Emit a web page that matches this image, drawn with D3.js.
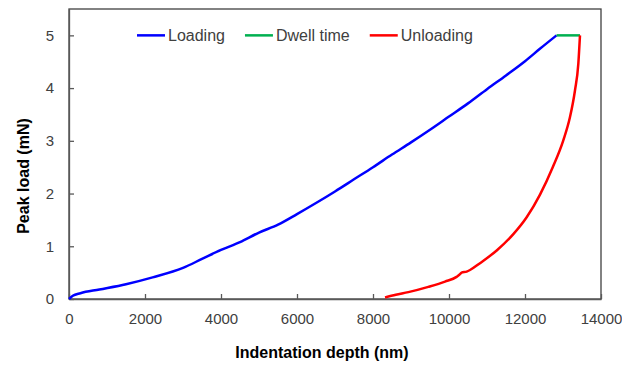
<!DOCTYPE html>
<meta charset="utf-8">
<style>
  body { margin: 0; background: #fff; }
  svg { font-family: Arial, "Liberation Sans", sans-serif; }
  .axis text { font-size: 15px; fill: #404040; }
  .axis path, .axis line { stroke: #595959; stroke-width: 1.3px; }
  .title { font-size: 16px; font-weight: bold; fill: #000; }
  .legend text { font-size: 16px; fill: #404040; }
</style>
<svg width="622" height="365"></svg>
<script src="https://d3js.org/d3.v7.min.js"></script>
<script>

  // indentation depth (nm) vs load (mN)
  var loading = [
    [0, 0], [100, 0.06], [300, 0.11], [800, 0.18], [1500, 0.28], [2200, 0.41],
    [3000, 0.59], [3500, 0.76], [4000, 0.93], [4500, 1.08], [5000, 1.26], [5500, 1.41],
    [6000, 1.61], [6500, 1.82], [7000, 2.04], [7500, 2.27], [8000, 2.50], [8500, 2.74],
    [9000, 2.97], [9500, 3.21], [10000, 3.46], [10500, 3.71], [11000, 3.98], [11500, 4.24],
    [12000, 4.51], [12400, 4.75], [12830, 5.0]
  ];
  var dwell = [[12830, 5.0], [13447, 5.0]];
  var unloading = [
    [8316, 0.03], [8600, 0.08], [8930, 0.13], [9456, 0.23], [9895, 0.33], [10200, 0.42],
    [10290, 0.47], [10330, 0.50], [10465, 0.52], [10553, 0.55], [10816, 0.68], [11255, 0.92],
    [11693, 1.23], [12044, 1.55], [12395, 1.98], [12730, 2.5], [13008, 3.01], [13184, 3.45],
    [13316, 3.96], [13403, 4.46], [13447, 5.0]
  ];

  var seriesNames = ["Loading", "Dwell time", "Unloading"];
  var seriesColors = ["#0000ff", "#00b050", "#ff0000"];
  var seriesData = [loading, dwell, unloading];

  var xTicks = [0, 2000, 4000, 6000, 8000, 10000, 12000, 14000];
  var yTicks = [0, 1, 2, 3, 4, 5];

  var svg = d3.select("svg"),
    margin = { top: 9, right: 21, bottom: 66, left: 69 },
    width = +svg.attr("width") - margin.left - margin.right,
    height = +svg.attr("height") - margin.top - margin.bottom;

  var g = svg.append("g").attr("transform", "translate(" + margin.left + "," + margin.top + ")");

  var x = d3.scaleLinear().domain([0, 14000]).range([0, width]);
  var y = d3.scaleLinear().domain([0, 5.5]).range([height, 0]);

  // plot frame
  g.append("rect")
    .attr("width", width).attr("height", height)
    .attr("fill", "none").attr("stroke", "#404040").attr("stroke-width", 1.3);

  g.append("g")
    .attr("class", "axis")
    .attr("transform", "translate(0," + height + ")")
    .call(d3.axisBottom(x).tickValues(xTicks).tickFormat(d3.format("d"))
      .tickSizeInner(-5).tickSizeOuter(0).tickPadding(14));

  g.append("g")
    .attr("class", "axis")
    .call(d3.axisLeft(y).tickValues(yTicks).tickFormat(d3.format("d"))
      .tickSizeInner(-5).tickSizeOuter(0).tickPadding(15));

  var line = d3.line()
    .x(function (d) { return x(d[0]); })
    .y(function (d) { return y(d[1]); })
    .curve(d3.curveMonotoneX);

  g.selectAll(".series")
    .data(seriesData)
    .enter().append("path")
    .attr("class", "series")
    .attr("d", line)
    .attr("fill", "none")
    .attr("stroke", function (d, i) { return seriesColors[i]; })
    .attr("stroke-width", 2.5)
    .attr("stroke-linejoin", "round");

  // legend, laid out left to right
  var legend = g.append("g").attr("class", "legend")
    .attr("transform", "translate(" + (137 - margin.left) + "," + y(5) + ")");
  var cursor = 0;
  seriesNames.forEach(function (name, i) {
    legend.append("line")
      .attr("x1", cursor).attr("x2", cursor + 28)
      .attr("y1", 0).attr("y2", 0)
      .attr("stroke", seriesColors[i]).attr("stroke-width", 2.5);
    var t = legend.append("text")
      .attr("x", cursor + 31).attr("dy", "0.35em")
      .text(name);
    cursor += 31 + t.node().getComputedTextLength() + 20;
  });

  svg.append("text")
    .attr("class", "title")
    .attr("x", 322).attr("y", 358)
    .attr("text-anchor", "middle")
    .text("Indentation depth (nm)");

  svg.append("text")
    .attr("class", "title")
    .attr("transform", "translate(29,176) rotate(-90)")
    .attr("text-anchor", "middle")
    .text("Peak load (mN)");

</script>
